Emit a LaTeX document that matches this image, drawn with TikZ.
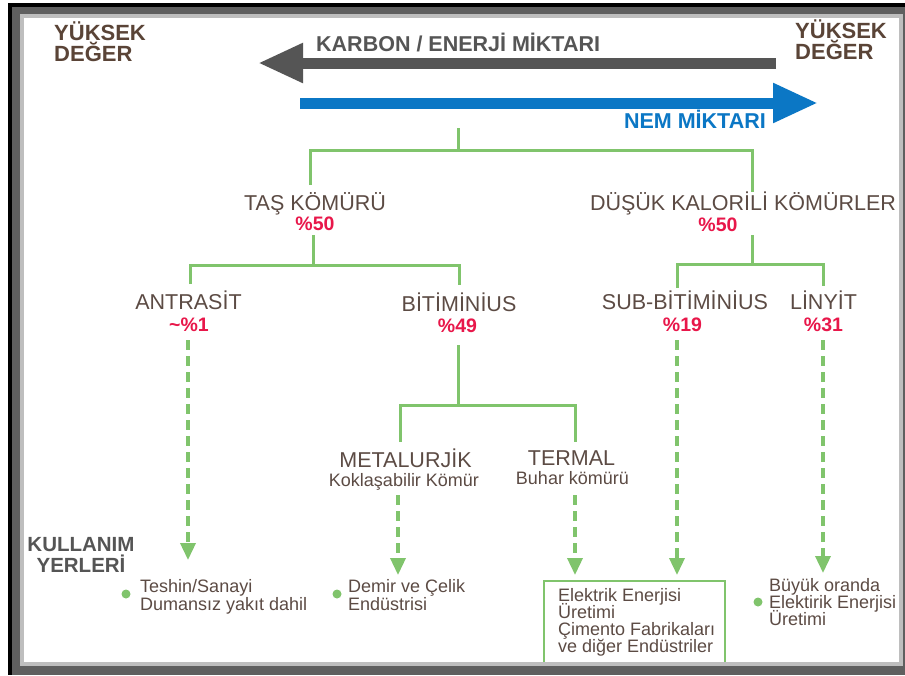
\documentclass[tikz,border=0pt]{standalone}
\usepackage{fontspec}
\setmainfont{Liberation Sans}
\usetikzlibrary{arrows.meta}

\definecolor{txtbrown}{HTML}{5C4B44}
\definecolor{headbrown}{HTML}{5A4437}
\definecolor{pctred}{HTML}{E8174A}
\definecolor{leafgreen}{HTML}{80C46C}
\definecolor{arrowgray}{HTML}{555555}
\definecolor{arrowblue}{HTML}{0B77C5}
\definecolor{framedark}{HTML}{5F5F5F}
\definecolor{framelight}{HTML}{BEBEBE}

\tikzset{
  lbl/.style={font=\fontsize{21.5}{24}\selectfont, text=txtbrown, inner sep=0pt, anchor=base},
  pcnt/.style={font=\bfseries\fontsize{19.5}{22}\selectfont, text=pctred, inner sep=0pt, anchor=base},
  sublbl/.style={font=\fontsize{18}{20}\selectfont, text=txtbrown, inner sep=0pt, anchor=base},
  usetxt/.style={font=\fontsize{18}{20}\selectfont, text=txtbrown, inner sep=0pt, anchor=base west},
  headtxt/.style={font=\bfseries\fontsize{22}{24}\selectfont, text=headbrown, inner sep=0pt, anchor=base west},
  boldgray/.style={font=\bfseries\fontsize{21.5}{24}\selectfont, text=arrowgray, inner sep=0pt},
  tree/.style={draw=leafgreen, line width=3pt},
  flow/.style={draw=leafgreen, line width=3.5pt, dash pattern=on 10pt off 6pt,
    -{Triangle[length=17pt,width=15pt]}},
  bullet/.style={circle, fill=leafgreen, inner sep=0pt, minimum size=9pt},
  bigarrow/.style={line width=11pt, -{Triangle[length=45pt,width=37pt]}},
}

\begin{document}
\begin{tikzpicture}[x=1pt,y=-1pt]
\useasboundingbox (0,0) rectangle (905,675);

% frame
\fill[black] (8,3) rectangle (905,675);
\fill[framedark] (12,7) rectangle (905,675);
\fill[framelight] (20,14) rectangle (903,666);
\fill[white] (24,18) rectangle (899,662);

% headings
\node[headtxt] (hl1) at (54,40) {YÜKSEK};
\node[headtxt] (hl2) at (54,61) {DEĞER};
\node[headtxt] (hr1) at (795,38) {YÜKSEK};
\node[headtxt] (hr2) at (795,59) {DEĞER};

% carbon / energy and moisture arrows
\coordinate (grayR) at (776,63);
\coordinate (grayL) at (258,63);
\draw[bigarrow, arrowgray] (grayR) -- (grayL);
\node[boldgray, anchor=base west] (carbon) at (316,51) {KARBON / ENERJİ MİKTARI};
\coordinate (blueL) at (300,103);
\coordinate (blueR) at (818,103);
\draw[bigarrow, arrowblue] (blueL) -- (blueR);
\node[boldgray, text=arrowblue, anchor=base east] (moist) at (766,128) {NEM MİKTARI};

% level 1
\node[lbl] (tas) at (315,210) {TAŞ KÖMÜRÜ};
\node[pcnt] (tasp) at (315,230) {\%50};
\node[lbl] (dkk) at (743,210) {DÜŞÜK KALORİLİ KÖMÜRLER};
\node[pcnt] (dkkp) at (718,231) {\%50};

% level 2
\node[lbl] (ant) at (188.5,309) {ANTRASİT};
\node[pcnt] (antp) at (189,331) {\textasciitilde\%1};
\node[lbl] (bit) at (459,311) {BİTİMİNİUS};
\node[pcnt] (bitp) at (457.5,332) {\%49};
\node[lbl] (sbt) at (685,309) {SUB-BİTİMİNİUS};
\node[pcnt] (sbtp) at (682.5,331) {\%19};
\node[lbl] (lin) at (823.5,309) {LİNYİT};
\node[pcnt] (linp) at (823.5,331) {\%31};

% level 3
\node[lbl] (met) at (405.5,467) {METALURJİK};
\node[sublbl] (mets) at (404,486) {Koklaşabilir Kömür};
\node[lbl] (ter) at (571.5,465) {TERMAL};
\node[sublbl] (ters) at (572.5,484) {Buhar kömürü};

% tree connectors
\coordinate (top) at (458,128);
\coordinate (split1) at (458,150);
\coordinate (tasin) at (310,185);
\coordinate (dkkin) at (752,192);
\draw[tree] (top) -- (split1);
\draw[tree] (tasin) |- (split1) -| (dkkin);

\coordinate (tasout) at (313,235);
\coordinate (split2) at (313,265);
\coordinate (antin) at (190,284);
\coordinate (bitin) at (459,285);
\draw[tree] (tasout) -- (split2);
\draw[tree] (antin) |- (split2) -| (bitin);

\coordinate (dkkout) at (752,235);
\coordinate (split3) at (752,264);
\coordinate (sbtin) at (677,288);
\coordinate (linin) at (823,286);
\draw[tree] (dkkout) -- (split3);
\draw[tree] (sbtin) |- (split3) -| (linin);

\coordinate (bitout) at (458,345);
\coordinate (split4) at (458,405);
\coordinate (metin) at (400,442);
\coordinate (terin) at (575,442);
\draw[tree] (bitout) -- (split4);
\draw[tree] (metin) |- (split4) -| (terin);

% usage area
\node[boldgray, font=\bfseries\fontsize{20.5}{24}\selectfont, anchor=base] (use1) at (81,551) {KULLANIM};
\node[boldgray, font=\bfseries\fontsize{20.5}{24}\selectfont, anchor=base] (use2) at (81,572) {YERLERİ};

\node[bullet] (b1) at (126,594) {};
\node[usetxt] (u1a) at (140,592) {Teshin/Sanayi};
\node[usetxt] (u1b) at (140,610) {Dumansız yakıt dahil};

\node[bullet] (b2) at (337,594) {};
\node[usetxt] (u2a) at (348,592) {Demir ve Çelik};
\node[usetxt] (u2b) at (348,610) {Endüstrisi};

\coordinate (boxbl) at (544,662);
\coordinate (boxtl) at (544,581);
\coordinate (boxtr) at (725,581);
\coordinate (boxbr) at (725,662);
\draw[leafgreen, line width=2pt] (boxbl) -- (boxtl) -- (boxtr) -- (boxbr);
\node[usetxt] (u3a) at (558,601) {Elektrik Enerjisi};
\node[usetxt] (u3b) at (558,618) {Üretimi};
\node[usetxt] (u3c) at (558,635) {Çimento Fabrikaları};
\node[usetxt] (u3d) at (558,652) {ve diğer Endüstriler};

\node[bullet] (b4) at (758,602) {};
\node[usetxt] (u4a) at (769,591) {Büyük oranda};
\node[usetxt] (u4b) at (769,608) {Elektirik Enerjisi};
\node[usetxt] (u4c) at (769,625) {Üretimi};

% dashed flows to usages
\coordinate (antout) at (188,340);
\coordinate (antuse) at (188,560);
\coordinate (metout) at (398,495);
\coordinate (metuse) at (398,575);
\coordinate (terout) at (575,495);
\coordinate (teruse) at (575,575);
\coordinate (sbtout) at (677,340);
\coordinate (sbtuse) at (677,575);
\coordinate (linout) at (823,340);
\coordinate (linuse) at (823,573);
\draw[flow] (antout) -- (antuse);
\draw[flow] (metout) -- (metuse);
\draw[flow] (terout) -- (teruse);
\draw[flow] (sbtout) -- (sbtuse);
\draw[flow] (linout) -- (linuse);
\end{tikzpicture}
\end{document}
